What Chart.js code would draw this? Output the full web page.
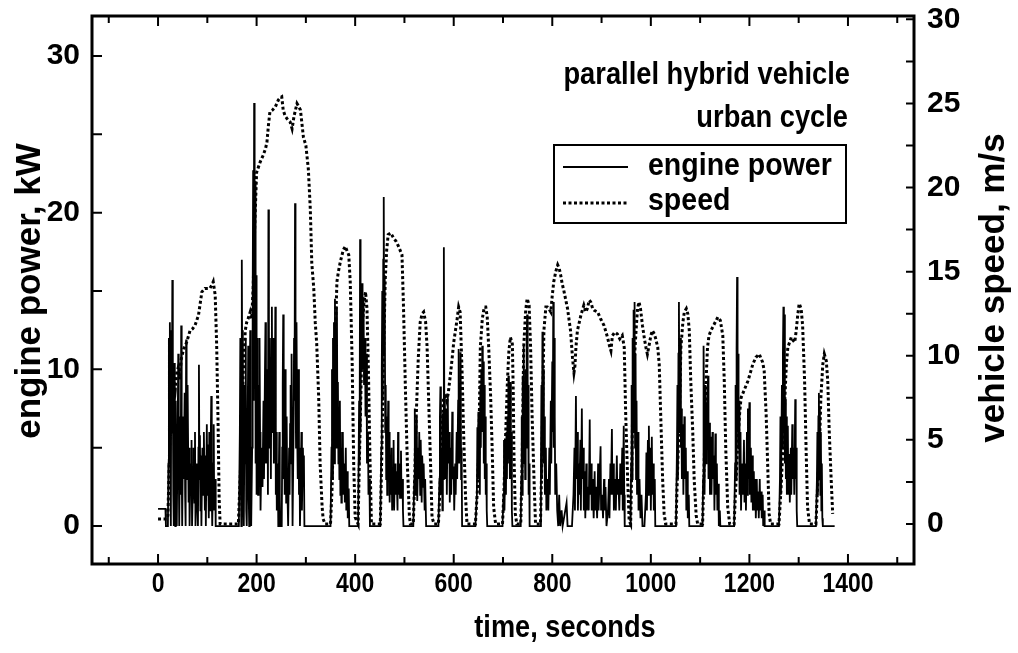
<!DOCTYPE html>
<html>
<head>
<meta charset="utf-8">
<title>Engine power and vehicle speed, urban cycle</title>
<script src="https://cdn.jsdelivr.net/npm/chart.js@4.4.1/dist/chart.umd.min.js"></script>
<style>
  html, body { margin: 0; padding: 0; background: #fff; }
  #wrap { position: relative; width: 1018px; height: 653px; }
</style>
</head>
<body>
<div id="wrap"><canvas id="cycleChart" width="1018" height="653"></canvas></div>
<script>
/* ─── Axis ticks and labels ─────────────────────────────────────────────── */
const xTickValues     = [0, 200, 400, 600, 800, 1000, 1200, 1400];
const powerTickValues = [0, 10, 20, 30];
const speedTickValues = [0, 5, 10, 15, 20, 25, 30];
const seriesNames     = ['engine power', 'speed'];
const infoLines       = ['parallel hybrid vehicle', 'urban cycle'];
const axisTitles      = { x: 'time, seconds', power: 'engine power, kW', speed: 'vehicle speed, m/s' };

/* ─── Vehicle speed, m/s  [time s, speed] ───────────────────────────────── */
const speedSamples = [
  [0,0.3],[10,0.3],[18,0.3],[20,0.5],[24,5],[28,7.5],[32,8.5],[35,8],[38,9],[41,9.3],[44,8.6],[47,9.8],
  [52,10.4],[58,10.8],[65,11.5],[70,11.6],[75,11.8],[82,12.4],[85,13],[89,13.8],[95,14],[100,14],[105,14],
  [109,14.2],[112,14.4],[116,13.6],[119,10.6],[122,5.7],[124,1.5],[126,0],
  [163,0],[167,3],[170,6],[173,9],[177,11.5],[180,12],[184,12.3],[187,12.6],[190,12.2],[193,14],[196,17.5],
  [200,20.9],[207,21.5],[213,21.9],[218,22.3],[221,22.7],[224,23.7],[227,24.5],[232,24.6],[238,24.8],
  [244,25.2],[248,25.35],[251,25.4],[254,24.6],[258,24.25],[264,24],[268,23.9],[272,23.5],[276,24.25],
  [282,25],[286,24.8],[289,24.6],[295,23],[300,22.5],[305,21.1],[309,18.7],[312,15.5],[316,14],[319,12],
  [322,10.7],[326,7.5],[329,3.5],[333,1],[335,0.3],[339,0],
  [350,0],[353,2],[356,5.5],[360,11.5],[363,14.4],[366,15],[370,15.6],[376,16.3],[380,16.5],[384,16.2],
  [387,16],[390,14.4],[392,12],[394,9.5],[397,3.6],[400,0.4],[406,0],
  [408,3],[411,7],[415,12],[418,13.2],[421,13.8],[424,12.8],[427,9],[430,4],[433,0],
  [451,0],[454,4],[457,9],[461,14.5],[464,16.3],[467,17.2],[472,17.3],[478,17],[483,16.8],[488,16.5],
  [495,16],[498,13],[502,8],[506,3.5],[510,0.5],[512,0],
  [518,0],[521,3],[524,6.5],[528,9.8],[532,12],[536,12.5],[539,12.6],[543,12],[546,10.5],[549,7.5],
  [553,3.6],[556,0.4],[560,0],
  [569,0],[572,2],[575,4.5],[579,7.5],[583,7.6],[586,7.3],[589,7.8],[593,8.8],[597,9.9],[600,10.8],
  [604,11.6],[607,12.2],[610,12.9],[613,12.6],[615,10.8],[617,9],[620,5.5],[624,1.6],[627,0],
  [644,0],[648,2],[651,4.5],[654,10.5],[658,12.2],[662,12.9],[665,12.9],[668,12.3],[671,10.5],[675,7.5],
  [678,4.5],[681,1],[685,0],
  [699,0],[702,2],[705,5],[709,8.5],[712,10.3],[715,11.1],[719,10.7],[721,7.5],[722,4.5],[725,0.6],[728,0],
  [736,0],[739,4],[742,10.5],[746,12.7],[749,13.4],[753,13],[756,10.5],[759,6.5],[763,2.6],[766,0],
  [776,0],[779,4],[781,8],[783,11.5],[787,12.9],[790,12.9],[793,12.8],[797,12.6],[800,13.6],[803,14.4],
  [807,15],[811,15.4],[814,15.2],[817,14.8],[820,14.3],[824,13.8],[831,12.8],[837,11.5],[841,9.9],
  [844,9],[846,9.4],[848,10.5],[851,11.5],[858,12.4],[864,13],[868,12.6],[871,12.8],[875,13.3],
  [878,13.2],[882,12.8],[885,12.7],[892,12.6],[898,12.2],[905,11.8],[912,11.1],[916,10.6],[919,10.3],
  [922,11.2],[927,11.4],[932,11.3],[937,11],[942,11.2],[946,10.5],[949,6.5],[953,2.6],[956,0.2],[959,0],
  [961,3],[963,6.5],[966,9.5],[970,11.5],[973,12.8],[976,13.2],[979,12.8],[983,11.8],[987,11],[990,10.5],
  [993,10.1],[997,10.7],[1000,11.2],[1003,11.5],[1007,11.3],[1010,11],[1014,10.5],[1017,9.5],[1020,6.5],
  [1024,2.6],[1027,0.6],[1030,0],
  [1051,0],[1054,3],[1058,6.5],[1061,10.5],[1065,12],[1068,12.6],[1072,12.8],[1075,12.5],[1078,11.5],
  [1081,8.5],[1085,5.5],[1088,2.6],[1092,0.5],[1095,0],
  [1105,0],[1109,4.5],[1112,8.5],[1115,10.5],[1118,11.2],[1122,11.5],[1129,11.9],[1136,12.3],[1141,12.1],
  [1146,11.2],[1149,8.5],[1152,4.5],[1156,1],[1160,0],
  [1169,0],[1172,2],[1176,4.5],[1180,6.5],[1183,7.5],[1190,8],[1197,8.5],[1202,9],[1207,9.5],[1213,9.9],
  [1220,10.1],[1227,9.6],[1230,9.1],[1234,6.5],[1237,3.6],[1240,0.6],[1243,0],
  [1260,0],[1264,2],[1268,4.5],[1272,7.5],[1275,9.5],[1278,10.5],[1285,11.1],[1289,10.9],[1292,10.8],
  [1295,11.5],[1298,12.4],[1301,13.1],[1305,12.8],[1308,11.8],[1312,8.5],[1315,4.5],[1318,1],[1322,0],
  [1335,0],[1338,2],[1342,4.5],[1345,7.5],[1349,9.5],[1352,10.1],[1356,9.7],[1359,8.5],[1362,5.5],
  [1366,2.6],[1369,0.6]
];

/* ─── Engine power, kW  [time s, power] ─────────────────────────────────── */
const powerSamples = [
  [0,1.1],[15,1.1],[16,0],[20,0],[21,4],[22,12],[23,6],[24,13],[25,3],[26,0],[27,12.5],[28,5.9],[29,15.7],
  [30,9],[31,2],[32,0],[33,10.4],[34,6],[35,0],[36,8],[37,3],[38,0],[40,6.5],[41,11],[42,4],[43,0],[45,7],
  [46,2],[47,12.8],[48,4],[49,0],[51,7],[52,3],[54,8.5],[55,2],[56,0],[57,11.9],[58,5],[59,3],[60,9],
  [62,1.5],[63,5],[64,0],[66,4],[67,2.5],[68,5.5],[69,0],[71,3],[72,5],[74,1.5],[75,6],[76,0],[78,4],
  [79,2],[81,0],[82,5],[83,10.3],[84,3],[85,5.8],[86,1],[87,4.5],[88,0],[90,5],[92,2],[93,6],[95,1],
  [96,4.5],[97,0],[99,6.5],[100,2],[101,5.2],[103,0.5],[104,6],[106,1],[107,5.5],[108,8.3],[109,2],
  [110,0],[112,4],[113,6.5],[114,1],[116,3],[117,0],[164,0],
  [166,6],[167,12],[168,3],[169,0],[170,17],[171,8],[172,12.5],[173,2],[174,0],[176,9],[177,4],[178,12],
  [179,1],[180,0],[182,7],[183,11.5],[184,2],[185,0],[186,8],[187,12.5],[188,3],[189,0],[191,5],[192,14],
  [193,22.7],[194,8],[195,27],[196,12],[197,22],[198,4],[199,16],[200,2],[201,12],[202,6],[203,2],[204,9],
  [205,3.5],[206,12],[207,6],[208,1],[210,5],[211,3],[212,2.5],[214,8],[215,3],[217,10],[218,13],[219,4],
  [221,6],[222,10],[223,2],[224,20.2],[225,9],[226,5],[227,12],[228,8],[229,3],[230,10],[231,14],[232,6],
  [233,9],[234,12],[235,4],[237,8],[238,14],[239,2],[240,6],[241,1],[243,4],[244,0],[245,3],[246,6],
  [247,2],[248,0],[251,0],[252,5],[253,9],[254,13.5],[255,3],[256,8],[257,2],[258,10],[259,5],[260,1.5],
  [261,7],[262,3],[264,0],[266,5],[267,2],[268,6.5],[269,9],[270,4],[271,11],[272,5],[273,0],[275,6],
  [276,12],[277,8],[278,20.6],[279,10],[280,5],[281,13],[282,7],[283,3],[284,6],[285,10],[286,2],[287,5],
  [288,0],[290,4],[291,6],[292,1],[294,5],[295,3],[296,4.5],[297,0],[350,0],
  [352,5],[353,10],[354,3],[355,12],[356,6],[357,13],[358,4],[359,14.5],[360,8],[361,11],[362,5],[363,14],
  [364,6],[365,9.2],[366,4],[367,7],[368,3],[369,8],[370,2],[371,6],[372,1.5],[373,5],[374,2.5],[375,6],
  [376,2],[378,4],[379,1.5],[381,5],[382,1],[384,3.5],[385,0.5],[387,2.4],[388,0],[406,0],
  [408,8],[409,4],[410,18.3],[411,6],[412,14],[414,15.5],[415,10],[417,14.6],[418,9],[420,12],[421,7],
  [423,11],[424,4],[426,6],[427,2],[429,3],[430,0],[451,0],
  [453,5],[454,10],[455,15],[456,8],[457,17],[458,21],[459,11],[460,16],[461,6],[462,9],[463,3],[464,7],
  [465,2],[466,5],[467,8],[468,3],[469,6],[470,1.5],[471,4.5],[472,2],[474,5],[475,1],[477,3],[478,5.5],
  [479,1],[481,4],[482,2],[484,3.5],[486,1],[487,6],[488,2],[490,4],[491,1.8],[493,4.8],[494,2],[496,3],
  [497,1],[498,0],[518,0],
  [520,3],[521,7.5],[522,2],[523,6.4],[524,4],[525,7],[526,1.6],[528,5],[529,3],[530,6],[532,2],[533,5.5],
  [535,1.5],[536,4.5],[538,2.5],[539,4],[541,1],[542,3],[544,0],[569,0],
  [571,3],[572,7],[573,8.9],[574,2],[576,5],[577,1],[578,7.2],[579,3],[580,17.8],[581,6],[582,8.3],[583,3],
  [585,7.5],[586,2],[588,8.3],[589,4],[591,6],[592,1.5],[594,5],[595,2],[597,7.3],[598,3],[600,3.8],
  [601,1],[603,4],[604,2],[606,6],[607,3],[609,8],[610,11.3],[611,4],[613,9],[614,11.1],[615,3],[616,5],
  [617,0],[644,0],
  [647,2],[648,6.3],[649,3],[650,7.3],[651,4.3],[652,6],[653,2],[654,9],[655,5],[656,10],[657,6],[658,11.5],
  [659,7],[660,10.5],[661,4],[662,9],[663,3],[664,7],[665,2],[666,4],[667,1],[668,0],[699,0],
  [701,2],[702,5.5],[703,1],[705,5.5],[706,2],[707,6],[708,3],[709,7],[710,4],[711,9.6],[712,5],[713,8.5],
  [714,3],[715,9.2],[716,4],[717,6],[718,1],[719,0],[736,0],
  [737,3],[738,7],[739,2],[740,9.6],[741,5],[742,11.5],[743,4],[744,8],[745,3],[746,10],[747,5],[748,12],
  [749,13.5],[750,6],[751,9],[752,2],[753,4],[754,0],[776,0],
  [777,4],[778,9],[779,3],[780,12.4],[781,6],[782,10],[783,4],[784,7],[785,2],[787,5],[788,1],[790,3],
  [792,1],[794,5],[795,2],[797,8],[798,4],[800,10.5],[801,6],[802,14.3],[803,5],[804,12],[805,7],[806,2],
  [808,4],[810,1],[812,0],[814,2],[816,0],[819,1],[821,0],[829,1.5],[831,0],[840,0],[843,2],[845,5],
  [846,1],[848,8.3],[849,3],[851,6],[852,1],[854,4],[855,2],[857,5.5],[858,1],[860,7.5],[861,3],[863,5],
  [864,1],[866,3.5],[867,0.5],[869,4],[870,1],[872,2.5],[874,1],[876,6.8],[877,2],[879,4],[880,1],[882,3],
  [884,0.5],[886,3.5],[887,1],[889,2.5],[891,0.5],[893,4],[894,1],[896,3],[898,5.1],[899,1],[901,2],
  [903,0.5],[905,3],[906,1],[908,2.5],[910,0],[913,1],[915,3],[916,0.5],[918,4],[919,2],[921,6.2],[922,2],
  [924,4],[925,1],[927,3],[929,1],[931,4.5],[932,2],[934,3],[936,1],[938,4],[940,2],[942,5],[943,1],
  [945,6.4],[946,2],[947,0],[959,0],
  [960,4],[961,9],[962,3],[963,12],[964,6],[965,13.8],[966,8],[967,14.3],[968,5],[969,11],[970,3],[971,8],
  [972,2],[974,6],[975,1],[977,3],[979,0.5],[981,2],[983,0],[987,0],[990,2],[991,4.7],[992,1],[994,5.5],
  [995,2],[996,6.4],[997,3],[999,5],[1000,1],[1002,5.7],[1003,2],[1005,4],[1006,1],[1008,3],[1009,0],
  [1051,0],
  [1053,5],[1054,9],[1055,3],[1056,11],[1057,14.3],[1058,6],[1059,8],[1060,12],[1061,5],[1062,7.5],
  [1063,3],[1065,6.5],[1066,2],[1068,7],[1069,3],[1071,5],[1072,1],[1074,3.5],[1075,0.5],[1077,2],
  [1078,0],[1105,0],
  [1106,3],[1107,11.5],[1108,7.5],[1109,2],[1110,6],[1111,9],[1112,4],[1113,7.9],[1114,5],[1116,9.6],
  [1117,3],[1119,6.6],[1120,2],[1122,5.7],[1123,2],[1125,6],[1126,3],[1128,4.5],[1129,1],[1131,5.9],
  [1132,2],[1134,4],[1135,1],[1137,2.7],[1138,0],[1140,1],[1141,0],[1169,0],
  [1171,4],[1172,9],[1173,3],[1174,11.3],[1175,15.9],[1176,6],[1177,11],[1178,4.9],[1179,8],[1180,2],
  [1182,6],[1183,1],[1185,4],[1187,2],[1189,5.5],[1190,1.5],[1192,4],[1193,1],[1195,6],[1196,2],[1197,7.5],
  [1198,3],[1200,7.9],[1201,2],[1203,5],[1204,1.5],[1206,4.5],[1207,1],[1209,3.5],[1210,1],[1212,3],
  [1213,0.5],[1215,3],[1216,1],[1218,2.2],[1219,0.5],[1221,3],[1222,1],[1224,2.2],[1225,0.5],[1227,2],
  [1228,0],[1230,1],[1231,0],[1260,0],
  [1262,3],[1263,7],[1264,2],[1266,9],[1267,5],[1268,11],[1269,14],[1270,6],[1271,13.5],[1272,4],[1273,8.1],
  [1274,3],[1275,7],[1276,2],[1278,6.4],[1279,2],[1281,4.6],[1282,1.5],[1284,5],[1285,2],[1287,6.5],
  [1288,3],[1290,5],[1291,2],[1293,8.1],[1294,3],[1295,5],[1296,1],[1297,0],[1335,0],
  [1337,3],[1338,6],[1339,2],[1340,7],[1341,8.5],[1342,3],[1343,7.5],[1344,2],[1345,6],[1346,1],[1347,4],
  [1348,0.5],[1349,0],[1373,0]
];

/* ─── Fonts ─────────────────────────────────────────────────────────────── */
const FAMILY = "'Liberation Sans', Arial, sans-serif";
const font   = px => `bold ${px}px ${FAMILY}`;

// Horizontal text is drawn narrow (squeezed on x) like a condensed face
function narrowText(ctx, text, x, y, px, squeeze, align) {
  ctx.font = font(px);
  const w = ctx.measureText(text).width * squeeze;
  const x0 = align === 'right' ? x - w : align === 'center' ? x - w / 2 : x;
  ctx.save();
  ctx.translate(x0, y);
  ctx.scale(squeeze, 1);
  ctx.textAlign = 'left';
  ctx.textBaseline = 'middle';
  ctx.fillText(text, 0, 0);
  ctx.restore();
}

/* ─── Frame with inward major / minor ticks ─────────────────────────────── */
function eachStep(scale, step, fn) {
  const start = Math.ceil(scale.min / step) * step;
  for (let v = start; v <= scale.max + 1e-9; v += step) fn(v, scale.getPixelForValue(v));
}

const frameAndTicks = {
  id: 'frameAndTicks',
  afterDraw(chart) {
    const { ctx, chartArea: a, scales } = chart;
    ctx.save();
    ctx.strokeStyle = '#000';
    ctx.lineWidth = 2;
    ctx.beginPath();
    eachStep(scales.x, 100, (v, px) => {
      const len = v % 200 === 0 ? 10 : 7;
      ctx.moveTo(px, a.bottom); ctx.lineTo(px, a.bottom - len);
      ctx.moveTo(px, a.top);    ctx.lineTo(px, a.top + len);
    });
    eachStep(scales.yPower, 5, (v, py) => {
      ctx.moveTo(a.left, py); ctx.lineTo(a.left + 10, py);
    });
    eachStep(scales.ySpeed, 2.5, (v, py) => {
      ctx.moveTo(a.right, py); ctx.lineTo(a.right - 8, py);
    });
    ctx.stroke();

    ctx.lineWidth = 3;
    ctx.strokeRect(a.left, a.top, a.right - a.left, a.bottom - a.top);

    // tick labels, placed from each scale's own ticks
    ctx.fillStyle = '#000';
    scales.x.ticks.forEach(t => narrowText(ctx, String(t.value), scales.x.getPixelForValue(t.value), 584, 28, 0.82, 'center'));
    scales.yPower.ticks.forEach(t => narrowText(ctx, String(t.value), 80, scales.yPower.getPixelForValue(t.value), 30, 1, 'right'));
    scales.ySpeed.ticks.forEach(t => narrowText(ctx, String(t.value), 927, scales.ySpeed.getPixelForValue(t.value), 30, 1, 'left'));
    ctx.restore();
  }
};

/* ─── Axis titles, caption and boxed legend ─────────────────────────────── */
const chartText = {
  id: 'chartText',
  afterDraw(chart) {
    const { ctx } = chart;
    ctx.save();
    ctx.fillStyle = '#000';
    ctx.strokeStyle = '#000';

    narrowText(ctx, axisTitles.x, 565, 628, 32, 0.85, 'center');

    ctx.font = font(35);
    ctx.textAlign = 'center';
    ctx.textBaseline = 'middle';
    ctx.save();
    ctx.translate(30, 291);
    ctx.rotate(-Math.PI / 2);
    ctx.fillText(axisTitles.power, 0, 0);
    ctx.restore();

    ctx.save();
    ctx.translate(994, 288);
    ctx.rotate(-Math.PI / 2);
    ctx.fillText(axisTitles.speed, 0, 0);
    ctx.restore();

    // caption
    narrowText(ctx, infoLines[0], 850, 75, 31, 0.88, 'right');
    narrowText(ctx, infoLines[1], 848, 118, 31, 0.88, 'right');

    // legend box
    ctx.lineWidth = 2;
    ctx.strokeRect(554, 145, 292, 78);

    ctx.beginPath();
    ctx.lineWidth = 1.8;
    ctx.moveTo(563, 167); ctx.lineTo(628, 167);
    ctx.stroke();

    ctx.beginPath();
    ctx.lineWidth = 3;
    ctx.setLineDash([3, 2.5]);
    ctx.moveTo(563, 203); ctx.lineTo(628, 203);
    ctx.stroke();
    ctx.setLineDash([]);

    narrowText(ctx, seriesNames[0], 648, 166, 31, 0.92, 'left');
    narrowText(ctx, seriesNames[1], 648, 201, 31, 0.92, 'left');
    ctx.restore();
  }
};

/* ─── Chart ─────────────────────────────────────────────────────────────── */
const toPoints = rows => rows.map(([t, v]) => ({ x: t, y: v }));
const noPad = s => { s.paddingTop = s.paddingBottom = s.paddingLeft = s.paddingRight = 0; };

new Chart(document.getElementById('cycleChart'), {
  type: 'line',
  data: {
    datasets: [
      {
        label: seriesNames[0],
        data: toPoints(powerSamples),
        yAxisID: 'yPower',
        borderColor: '#000',
        borderWidth: 1.8,
        pointRadius: 0,
        tension: 0,
      },
      {
        label: seriesNames[1],
        data: toPoints(speedSamples),
        yAxisID: 'ySpeed',
        borderColor: '#000',
        borderWidth: 3,
        borderDash: [3, 2.5],
        borderCapStyle: 'butt',
        pointRadius: 0,
        tension: 0,
      },
    ],
  },
  options: {
    responsive: false,
    animation: false,
    devicePixelRatio: 1,
    layout: { padding: { top: 16, left: 0, right: 0, bottom: 0 } },
    plugins: { legend: { display: false }, tooltip: { enabled: false } },
    scales: {
      x: {
        type: 'linear',
        position: 'bottom',
        min: -134,
        max: 1534,
        afterBuildTicks: s => { s.ticks = xTickValues.map(value => ({ value })); },
        afterFit: s => { s.height = 89; noPad(s); },
        grid: { display: false, drawTicks: false },
        border: { display: false },
        ticks: { display: false },
      },
      yPower: {
        position: 'left',
        min: -2.42,
        max: 32.55,
        afterBuildTicks: s => { s.ticks = powerTickValues.map(value => ({ value })); },
        afterFit: s => { s.width = 92; noPad(s); },
        grid: { display: false, drawTicks: false },
        border: { display: false },
        ticks: { display: false },
      },
      ySpeed: {
        position: 'right',
        min: -2.38,
        max: 30.2,
        afterBuildTicks: s => { s.ticks = speedTickValues.map(value => ({ value })); },
        afterFit: s => { s.width = 104; noPad(s); },
        grid: { display: false, drawTicks: false },
        border: { display: false },
        ticks: { display: false },
      },
    },
  },
  plugins: [frameAndTicks, chartText],
});
</script>
</body>
</html>
